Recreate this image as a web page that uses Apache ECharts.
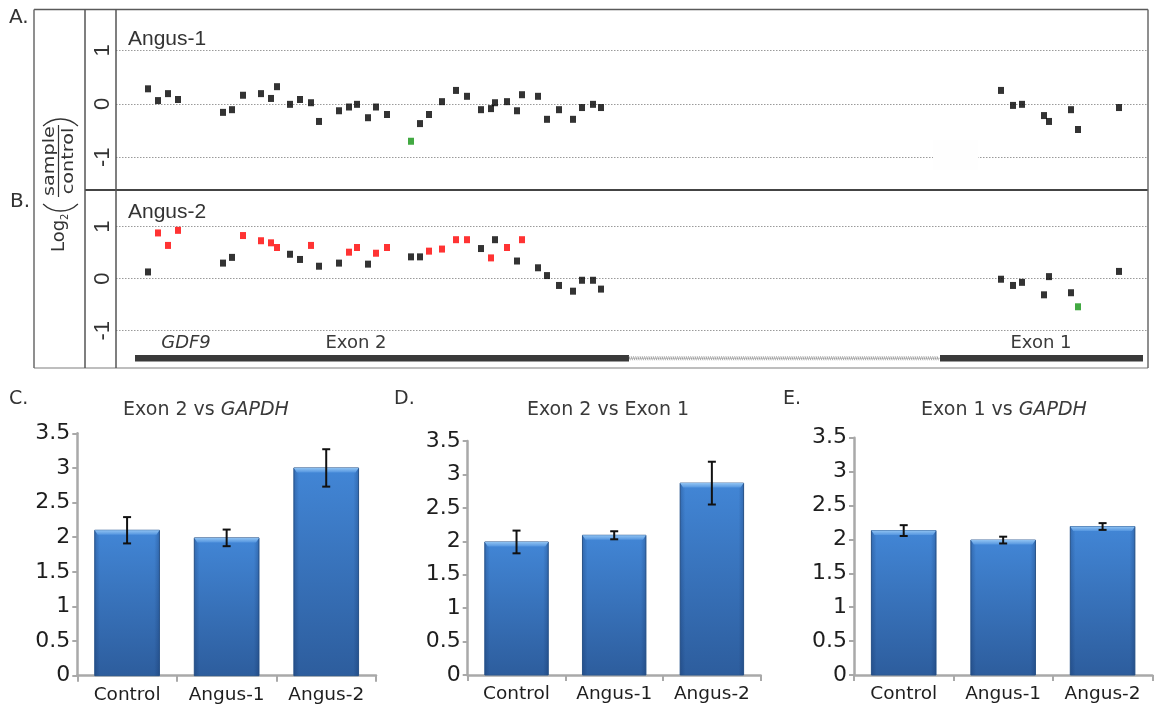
<!DOCTYPE html>
<html>
<head>
<meta charset="utf-8">
<script src="https://cdn.jsdelivr.net/npm/echarts@6/dist/echarts.min.js"></script>
<style>
  html, body { margin: 0; padding: 0; background: #ffffff; }
  #chart { width: 1159px; height: 706px; }
</style>
</head>
<body>
<div id="chart"></div>
<script>
// ---- Array CGH probes along GDF9 (track units; exon 2 probes first, then exon 1) ----
const probePos = [
  32, 42, 52, 62, 107, 116, 127, 145, 155, 161,
  174, 184, 195, 203, 223, 233, 241, 252, 260, 271,
  295, 304, 313, 326, 340, 351, 365, 375, 379, 391,
  401, 406, 422, 431, 443, 457, 466, 477, 485,
  885, 897, 906, 928, 933, 955, 962, 1003
];
// log2(sample/control) per probe
const angus1Ratio = [
  0.28, 0.06, 0.19, 0.08, -0.16, -0.11, 0.16, 0.19, 0.10, 0.32,
  -0.01, 0.08, 0.02, -0.33, -0.13, -0.06, -0.01, -0.26, -0.06, -0.20,
  -0.70, -0.37, -0.20, 0.04, 0.25, 0.14, -0.11, -0.09, 0.02, 0.04,
  -0.13, 0.17, 0.14, -0.29, -0.11, -0.29, -0.07, -0.01, -0.07,
  0.25, -0.03, -0.01, -0.22, -0.33, -0.11, -0.48, -0.07
];
const angus2Ratio = [
  0.13, 0.88, 0.64, 0.93, 0.30, 0.41, 0.83, 0.73, 0.69, 0.60,
  0.47, 0.37, 0.64, 0.24, 0.30, 0.51, 0.60, 0.28, 0.49, 0.60,
  0.42, 0.42, 0.53, 0.57, 0.75, 0.75, 0.58, 0.40, 0.75, 0.60,
  0.34, 0.75, 0.21, 0.06, -0.13, -0.24, -0.03, -0.03, -0.20,
  -0.01, -0.13, -0.07, -0.31, 0.04, -0.27, -0.54, 0.14
];
// probe call: n = normal, g = gain, l = loss
const angus1Call = 'nnnnnnnnnnnnnnnnnnnnlnnnnnnnnnnnnnnnnnnnnnnnnnn'.split('');
const angus2Call = 'nggg nnggggnngnnggngg nnggggngngngnnnnnnnnnnnnnlng'.replace(/ /g, '').split('');
const ratioTicks = [-1, 0, 1];

// gene model of GDF9 drawn under panel B: [start, end, isExon]
const geneSegments = [[19, 513, 1], [513, 824, 0], [824, 1027, 1]];
const trackLevel = -1.53;

// ---- qPCR relative copy number ----
const qpcrGroups = ['Control', 'Angus-1', 'Angus-2'];
const exon2VsGapdh = [2.10, 1.99, 3.00];
const exon2VsGapdhErr = [0.19, 0.12, 0.27];
const exon2VsExon1 = [1.99, 2.09, 2.87];
const exon2VsExon1Err = [0.17, 0.06, 0.32];
const exon1VsGapdh = [2.13, 1.99, 2.19];
const exon1VsGapdhErr = [0.08, 0.05, 0.05];
const qpcrTicks = [0, 0.5, 1, 1.5, 2, 2.5, 3, 3.5];

const SANS = '"Liberation Sans", Arial, sans-serif';
const WIDE = '"DejaVu Sans", sans-serif';
const TXT = '#333333';

const chart = echarts.init(document.getElementById('chart'), null, { renderer: 'canvas' });

function pointsFor(ratios, calls, code) {
  const out = [];
  probePos.forEach((x, i) => { if (calls[i] === code) out.push([x, ratios[i]]); });
  return out;
}

const callColors = { n: '#000000', g: '#ff0000', l: '#139313' };

function scatterSeries(gridIdx, ratios, calls) {
  return ['n', 'g', 'l'].map(code => ({
    type: 'scatter',
    xAxisIndex: gridIdx, yAxisIndex: gridIdx,
    symbol: 'rect', symbolSize: [6, 7],
    itemStyle: { color: callColors[code] },
    data: pointsFor(ratios, calls, code),
    z: 5
  }));
}

function renderTrack(params, api) {
  const a = api.coord([api.value(0), trackLevel]);
  const b = api.coord([api.value(1), trackLevel]);
  if (api.value(2) === 1) {
    return { type: 'rect', shape: { x: a[0], y: a[1] - 3.3, width: b[0] - a[0], height: 6.6 },
             style: { fill: '#3a3a3a' } };
  }
  const kids = [{ type: 'line', shape: { x1: a[0], y1: a[1], x2: b[0], y2: b[1] },
                  style: { stroke: '#c4c4c4', lineWidth: 1 } }];
  for (let x = a[0]; x < b[0] - 1; x += 2.2) {
    kids.push({ type: 'line', shape: { x1: x, y1: a[1] - 2, x2: x + 1.4, y2: a[1] + 2 },
                style: { stroke: '#8e8e8e', lineWidth: 0.8 } });
  }
  return { type: 'group', children: kids };
}

const bodyGrad = new echarts.graphic.LinearGradient(0, 0, 0, 1, [
  { offset: 0, color: '#4286d6' }, { offset: 1, color: '#2d5d9d' }]);
const sideShade = new echarts.graphic.LinearGradient(0, 0, 1, 0, [
  { offset: 0, color: 'rgba(10,35,80,0.25)' }, { offset: 0.08, color: 'rgba(10,35,80,0)' },
  { offset: 0.92, color: 'rgba(10,35,80,0)' }, { offset: 1, color: 'rgba(10,35,80,0.25)' }]);
const bevelGrad = new echarts.graphic.LinearGradient(0, 0, 0, 1, [
  { offset: 0, color: '#8fc2f2' }, { offset: 1, color: '#5495df' }]);

function renderQpcrBar(params, api) {
  const idx = api.value(0), val = api.value(1);
  const top = api.coord([idx, val]);
  const base = api.coord([idx, 0]);
  const w = api.size([1, 0])[0] * 0.65;
  const x = top[0] - w / 2, y = top[1], h = base[1] - top[1];
  return {
    type: 'group',
    children: [
      { type: 'rect', shape: { x, y, width: w, height: h },
        style: { fill: bodyGrad, stroke: '#2c5990', lineWidth: 1 } },
      { type: 'rect', shape: { x, y, width: w, height: h }, style: { fill: sideShade } },
      { type: 'polygon', shape: { points: [[x, y], [x + w, y], [x + w - 3, y + 4.5], [x + 3, y + 4.5]] },
        style: { fill: bevelGrad } }
    ]
  };
}

function renderErrorBar(params, api) {
  const idx = api.value(0), m = api.value(1), e = api.value(2);
  const hi = api.coord([idx, m + e]), lo = api.coord([idx, m - e]);
  const cap = 4;
  const st = { stroke: '#111111', lineWidth: 2 };
  return { type: 'group', children: [
    { type: 'line', shape: { x1: hi[0], y1: hi[1], x2: lo[0], y2: lo[1] }, style: st },
    { type: 'line', shape: { x1: hi[0] - cap, y1: hi[1], x2: hi[0] + cap, y2: hi[1] }, style: st },
    { type: 'line', shape: { x1: lo[0] - cap, y1: lo[1], x2: lo[0] + cap, y2: lo[1] }, style: st }
  ] };
}

function qpcrSeries(gridIdx, values, errs) {
  return [
    { type: 'custom', xAxisIndex: gridIdx, yAxisIndex: gridIdx, renderItem: renderQpcrBar,
      encode: { x: 0, y: 1 }, data: values.map((v, i) => [i, v]), z: 2 },
    { type: 'custom', xAxisIndex: gridIdx, yAxisIndex: gridIdx, renderItem: renderErrorBar,
      encode: { x: 0, y: 1 }, data: values.map((v, i) => [i, v, errs[i]]), z: 3 }
  ];
}

const ratioYAxis = gi => ({
  type: 'value', gridIndex: gi, min: ratioTicks[0], max: ratioTicks[ratioTicks.length - 1], interval: 1,
  axisLine: { show: false }, axisTick: { show: false },
  splitLine: { show: true, lineStyle: { color: '#9a9a9a', type: [1.5, 1.5], width: 1 } },
  axisLabel: { rotate: 90, fontSize: 22, fontFamily: SANS, color: TXT, margin: 2 }
});
const trackXAxis = gi => ({ type: 'value', gridIndex: gi, min: 0, max: 1032, show: false });

const qpcrXAxis = gi => ({
  type: 'category', gridIndex: gi, data: qpcrGroups,
  axisLine: { show: true, lineStyle: { color: '#a9a9a9', width: 2.5 } },
  axisTick: { show: true, length: 6, lineStyle: { color: '#a9a9a9', width: 2 } },
  axisLabel: { interval: 0, hideOverlap: false, fontFamily: WIDE, fontSize: 18.5, color: '#1e1e1e', margin: 10 }
});
const qpcrYAxis = gi => ({
  type: 'value', gridIndex: gi, min: qpcrTicks[0], max: qpcrTicks[qpcrTicks.length - 1], interval: 0.5,
  axisLine: { show: true, lineStyle: { color: '#a9a9a9', width: 2.5 } },
  axisTick: { show: true, length: 5, lineStyle: { color: '#a9a9a9', width: 2 } },
  splitLine: { show: false },
  axisLabel: { fontFamily: WIDE, fontSize: 22, color: '#1e1e1e', margin: 7 }
});

function label(text, x, y, size, font, extra) {
  return Object.assign({
    type: 'text', x, y, z: 20,
    style: { text, fontSize: size, fontFamily: font, fill: TXT,
             align: 'left', verticalAlign: 'middle', textAlign: 'left', textVerticalAlign: 'middle' }
  }, extra || {});
}
function centered(text, x, y, size, font, rich) {
  return {
    type: 'text', x, y, z: 20,
    style: { text, fontSize: size, fontFamily: font, fill: '#3a3a3a', rich: rich || {},
             align: 'center', verticalAlign: 'middle', textAlign: 'center', textVerticalAlign: 'middle' }
  };
}
function hline(x1, x2, y, color, w) {
  return { type: 'line', z: 15, shape: { x1, y1: y, x2, y2: y }, style: { stroke: color, lineWidth: w } };
}
function vline(x, y1, y2, color, w) {
  return { type: 'line', z: 15, shape: { x1: x, y1, x2: x, y2 }, style: { stroke: color, lineWidth: w } };
}

const italicRich = { i: { fontStyle: 'italic', fontFamily: WIDE, fontSize: 19, fill: '#3a3a3a' } };

// y-axis title: Log2(sample / control), written bottom-to-top
const logLabel = {
  type: 'group', x: 60, y: 252, rotation: Math.PI / 2, z: 20,
  children: [
    { type: 'text', x: 0, y: -1, style: { text: 'Log', fontSize: 18, fontFamily: WIDE, fill: TXT,
      align: 'left', verticalAlign: 'middle', textAlign: 'left', textVerticalAlign: 'middle' } },
    { type: 'text', x: 32, y: 5, style: { text: '2', fontSize: 10, fontFamily: WIDE, fill: TXT,
      align: 'left', verticalAlign: 'middle', textAlign: 'left', textVerticalAlign: 'middle' } },
    { type: 'arc', shape: { cx: 66, cy: 0.5, r: 25, startAngle: Math.PI - 0.77, endAngle: Math.PI + 0.77, clockwise: true },
      style: { stroke: TXT, lineWidth: 1.3, fill: null } },
    { type: 'text', x: 91, y: -10, scaleX: 1.2, style: { text: 'sample', fontSize: 16, fontFamily: WIDE, fill: TXT,
      align: 'center', verticalAlign: 'middle', textAlign: 'center', textVerticalAlign: 'middle' } },
    { type: 'line', shape: { x1: 55, y1: -1.5, x2: 127, y2: -1.5 }, style: { stroke: TXT, lineWidth: 1.2 } },
    { type: 'text', x: 91, y: 9, scaleX: 1.2, style: { text: 'control', fontSize: 16, fontFamily: WIDE, fill: TXT,
      align: 'center', verticalAlign: 'middle', textAlign: 'center', textVerticalAlign: 'middle' } },
    { type: 'arc', shape: { cx: 108, cy: 0.5, r: 25, startAngle: -0.77, endAngle: 0.77, clockwise: true },
      style: { stroke: TXT, lineWidth: 1.3, fill: null } }
  ]
};

const option = {
  animation: false,
  backgroundColor: '#ffffff',
  grid: [
    { left: 116, top: 50.3, width: 1032, height: 107 },
    { left: 116, top: 226.7, width: 1032, height: 104 },
    { left: 77.3, top: 433.3, width: 298.7, height: 242.4 },
    { left: 467.7, top: 441, width: 293, height: 234 },
    { left: 854, top: 437.7, width: 298.3, height: 237.3 }
  ],
  xAxis: [trackXAxis(0), trackXAxis(1), qpcrXAxis(2), qpcrXAxis(3), qpcrXAxis(4)],
  yAxis: [ratioYAxis(0), ratioYAxis(1), qpcrYAxis(2), qpcrYAxis(3), qpcrYAxis(4)],
  series: [
    ...scatterSeries(0, angus1Ratio, angus1Call),
    ...scatterSeries(1, angus2Ratio, angus2Call),
    { type: 'custom', xAxisIndex: 1, yAxisIndex: 1, renderItem: renderTrack, clip: false,
      encode: { x: [0, 1] }, data: geneSegments, z: 4 },
    ...qpcrSeries(2, exon2VsGapdh, exon2VsGapdhErr),
    ...qpcrSeries(3, exon2VsExon1, exon2VsExon1Err),
    ...qpcrSeries(4, exon1VsGapdh, exon1VsGapdhErr)
  ],
  graphic: [
    // frame of the array panels
    hline(34, 1148, 9.5, '#5a5a5a', 1.5),
    hline(34, 1148, 368, '#a8a8a8', 1.5),
    hline(85, 1148, 190, '#444444', 2),
    vline(34, 9.5, 368, '#6a6a6a', 1.5),
    vline(85, 9.5, 368, '#555555', 1.5),
    vline(116, 9.5, 368, '#555555', 1.5),
    vline(1148, 9.5, 368, '#6a6a6a', 1.5),
    { type: 'rect', z: 12, shape: { x: 933, y: 140, width: 45, height: 30 }, style: { fill: '#fefefe' } },
    logLabel,
    label('A.', 9, 18, 20, WIDE),
    label('B.', 10, 202, 20, WIDE),
    label('Angus-1', 128, 39, 21, SANS),
    label('Angus-2', 128, 212, 21, SANS),
    centered('{i|GDF9}', 186, 343, 18, WIDE, { i: { fontStyle: 'italic', fontFamily: WIDE, fontSize: 18, fill: '#3a3a3a' } }),
    centered('Exon 2', 356, 343, 18, WIDE),
    centered('Exon 1', 1041, 343, 18, WIDE),
    label('C.', 9, 399, 19, WIDE),
    label('D.', 394, 399, 19, WIDE),
    label('E.', 783, 399, 19, WIDE),
    centered('Exon 2 vs {i|GAPDH}', 206, 410, 19, WIDE, italicRich),
    centered('Exon 2 vs Exon 1', 608, 410, 19, WIDE),
    centered('Exon 1 vs {i|GAPDH}', 1004, 410, 19, WIDE, italicRich)
  ]
};

chart.setOption(option);
</script>
</body>
</html>
